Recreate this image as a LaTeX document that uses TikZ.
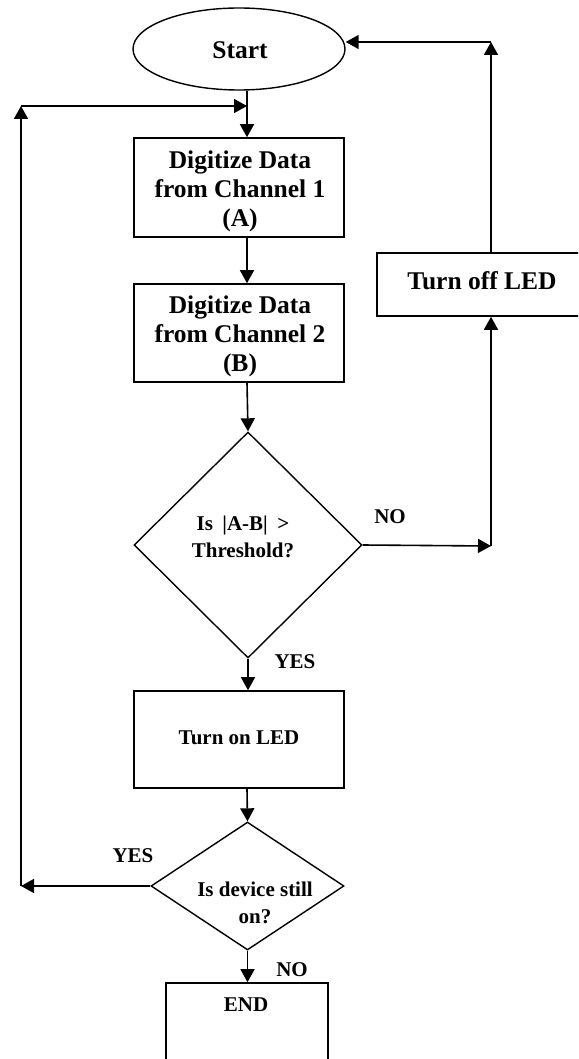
\documentclass[tikz,border=0pt]{standalone}
\usepackage{fontspec}
\setmainfont{Liberation Serif}
\usetikzlibrary{shapes.geometric,arrows.meta}
\begin{document}
\begin{tikzpicture}[x=1pt,y=-1pt,
  every node/.style={font=\bfseries},
  big/.style={font=\bfseries\fontsize{25.5}{29}\selectfont,align=center,inner sep=0pt},
  small/.style={font=\bfseries\fontsize{21}{26.5}\selectfont,align=center,inner sep=0pt},
  proc/.style={draw,line width=1.6pt,rectangle,inner sep=0pt},
  dec/.style={draw,line width=1.4pt,diamond,inner sep=0pt},
  arr/.style={line width=1.6pt,-{Triangle[length=13pt,width=14pt]}}]
\useasboundingbox (0,0) rectangle (578,1059);
\begin{scope}
\clip (0,0) rectangle (578,1059);
\node[draw,line width=1.4pt,ellipse,minimum width=212pt,minimum height=82pt,inner sep=0pt] (start) at (239,49) {};
\node[proc,minimum width=210pt,minimum height=99pt] (b1) at (239,187.5) {};
\node[proc,minimum width=210pt,minimum height=98pt] (b2) at (239,333) {};
\node[dec,minimum width=228pt,minimum height=226pt] (d1) at (248,545) {};
\node[proc,minimum width=210pt,minimum height=63pt] (off) at (482,284.5) {};
\node[proc,minimum width=210pt,minimum height=97pt] (on) at (239,739.5) {};
\node[dec,minimum width=193pt,minimum height=128pt] (d2) at (247.5,886) {};
\node[proc,minimum width=162pt,minimum height=82pt] (end) at (247,1024) {};
\end{scope}

% texts
\node[big] (tstart) at (240,50) {Start};
\node[big] (t1) at (240,191.5) {Digitize Data\\from Channel 1\\(A)};
\node[big] (t2) at (240,336.5) {Digitize Data\\from Channel 2\\(B)};
\node[small] (td1) at (243,537) {Is\hspace{0.45em}|A-B|\hspace{0.45em}>\\Threshold?};
\node[big] (toff) at (482,281) {Turn off LED};
\node[small] (ton) at (239,738) {Turn on LED};
\node[small] (td2) at (255,903) {Is device still\\on?};
\node[small] (tend) at (246,1005) {END};

\coordinate (ax) at (247,0);
\coordinate (L1) at (21,886);
\coordinate (L2) at (21,106);
\coordinate (J1) at (247,106);
\coordinate (R1) at (491,546);
\coordinate (R2) at (491,42);

% main line
\draw[arr] (start.south -| ax) -- (b1.north -| ax);
\draw[arr] (b1.south -| ax) -- (b2.north -| ax);
\draw[arr] (b2.south -| ax) -- (d1.north);
\draw[arr] (d1.south) -- (on.north -| d1.south);
\draw[arr] (on.south -| ax) -- (d2.north);
\draw[arr] (d2.south) -- (end.north -| d2.south);

% NO loop to the right
\draw[arr] (d1.east) -- (R1);
\draw[arr] (R1) -- (off.south -| R1);
\draw[arr] (off.north -| R1) -- (R2);
\draw[arr] (R2) -- (start.east |- R2);

% YES loop to the left
\draw[arr] (d2.west) -- (L1);
\draw[arr] (L1) -- (L2);
\draw[arr] (L2) -- (J1);

% labels
\node[small] (no1) at (390,517) {NO};
\node[small] (yes1) at (295,662) {YES};
\node[small] (yes2) at (133,856) {YES};
\node[small] (no2) at (292,970) {NO};
\end{tikzpicture}
\end{document}
